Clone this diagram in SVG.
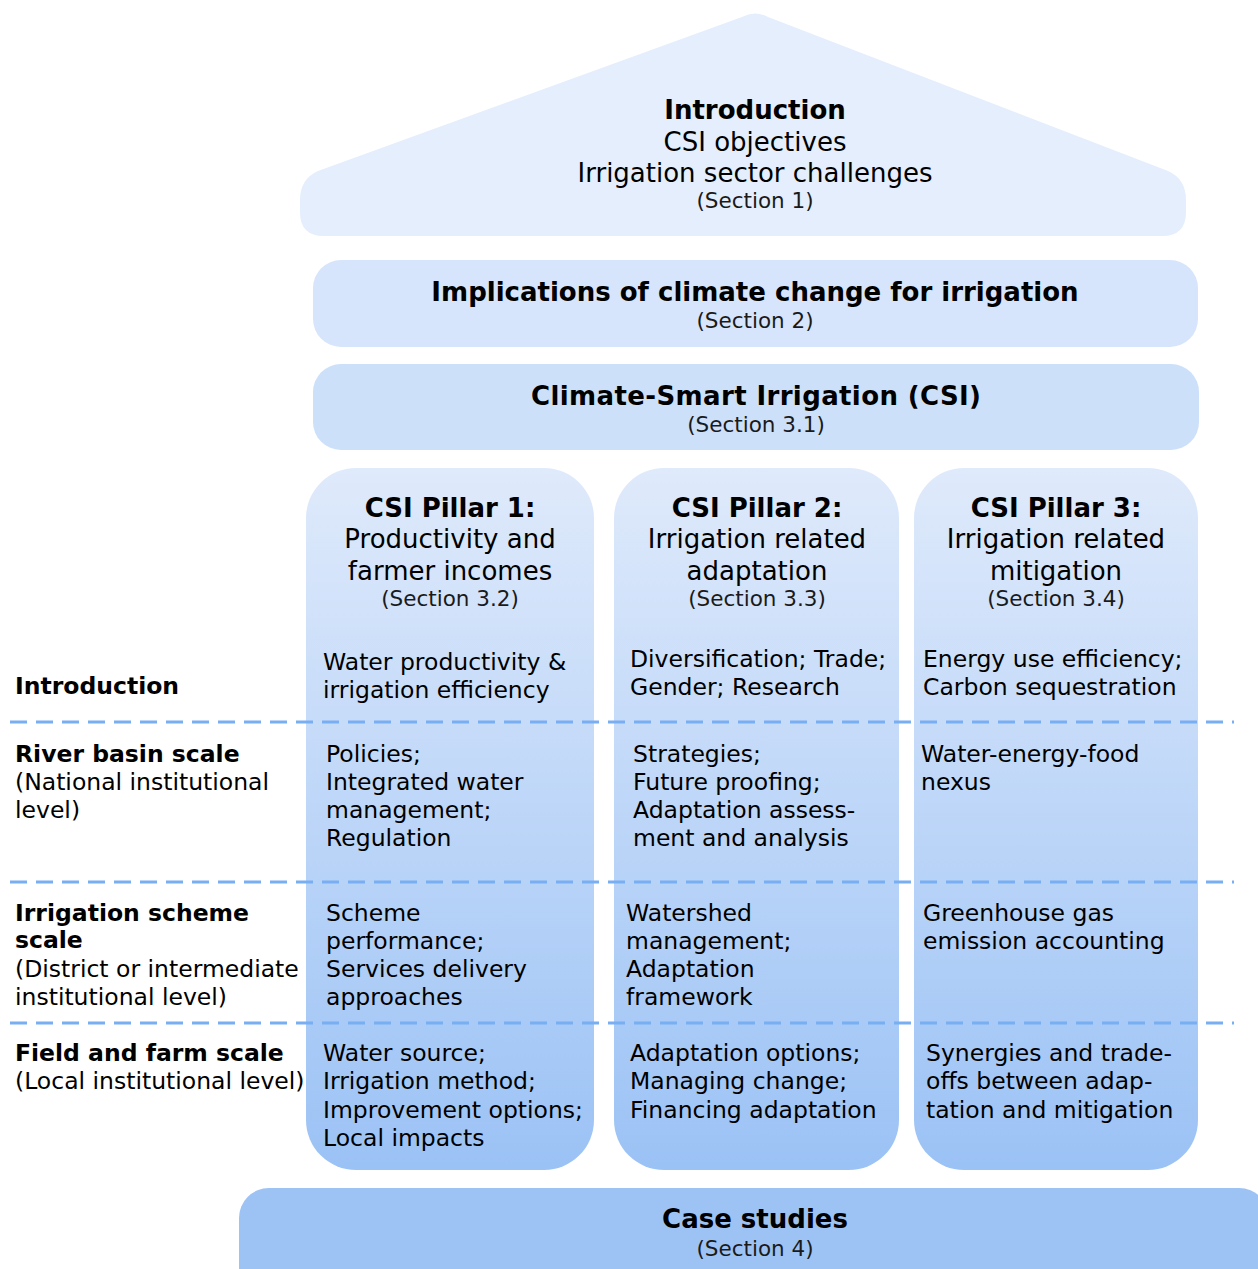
<svg xmlns="http://www.w3.org/2000/svg" width="1258" height="1269" viewBox="0 0 1258 1269">
  <defs>
    <linearGradient id="pillarFill" x1="0" y1="0" x2="0" y2="1">
      <stop offset="0" stop-color="#dfeafb"/>
      <stop offset="1" stop-color="#9bc2f5"/>
    </linearGradient>
  </defs>
  <style>
    text { font-family: "DejaVu Sans", Verdana, sans-serif; fill: #000; }
    .title { font-size: 26px; font-weight: bold; text-anchor: middle; }
    .sub { font-size: 26px; text-anchor: middle; }
    .sec { font-size: 21.5px; text-anchor: middle; fill: #1a1a1a; }
    .body { font-size: 23.5px; }
    .lbl { font-size: 23.5px; font-weight: bold; }
    .sep { stroke: #78aef2; stroke-width: 3; stroke-dasharray: 17 9; fill: none; }
    .pillar { fill: url(#pillarFill); }
  </style>

  <rect width="1258" height="1269" fill="#fff"/>

  <!-- Roof: introduction -->
  <g id="intro-roof">
    <path d="M742 17 Q755 10 768 17 L1168 171 Q1186 179 1186 200 L1186 212 Q1186 236 1162 236 L324 236 Q300 236 300 212 L300 200 Q300 179 318 171 Z" fill="#e4eefc"/>
    <text class="title" x="755" y="119">Introduction</text>
    <text class="sub" x="755" y="151">CSI objectives</text>
    <text class="sub" x="755" y="182">Irrigation sector challenges</text>
    <text class="sec" x="755" y="208">(Section 1)</text>
  </g>

  <!-- Section 2 bar -->
  <g id="climate-implications">
    <rect x="313" y="260" width="885" height="87" rx="28" fill="#d6e5fb"/>
    <text class="title" x="755" y="301">Implications of climate change for irrigation</text>
    <text class="sec" x="755" y="328">(Section 2)</text>
  </g>

  <!-- Section 3.1 bar -->
  <g id="csi">
    <rect x="313" y="364" width="886" height="86" rx="28" fill="#cce0fa"/>
    <text class="title" x="756" y="405" textLength="450" lengthAdjust="spacing">Climate-Smart Irrigation (CSI)</text>
    <text class="sec" x="756" y="432">(Section 3.1)</text>
  </g>

  <!-- Pillar 1 -->
  <g id="pillar-1">
    <rect class="pillar" x="306" y="468" width="288" height="702" rx="50"/>
    <text class="title" x="450" y="517">CSI Pillar 1:</text>
    <text class="sub" x="450" y="548">Productivity and</text>
    <text class="sub" x="450" y="580">farmer incomes</text>
    <text class="sec" x="450" y="606">(Section 3.2)</text>
    <text class="body" x="323" y="670">Water productivity &amp;</text>
    <text class="body" x="323" y="698">irrigation efficiency</text>
    <text class="body" x="326" y="762">Policies;</text>
    <text class="body" x="326" y="790">Integrated water</text>
    <text class="body" x="326" y="818">management;</text>
    <text class="body" x="326" y="846">Regulation</text>
    <text class="body" x="326" y="921">Scheme</text>
    <text class="body" x="326" y="949">performance;</text>
    <text class="body" x="326" y="977">Services delivery</text>
    <text class="body" x="326" y="1005">approaches</text>
    <text class="body" x="323" y="1061">Water source;</text>
    <text class="body" x="323" y="1089">Irrigation method;</text>
    <text class="body" x="323" y="1118">Improvement options;</text>
    <text class="body" x="323" y="1146">Local impacts</text>
  </g>

  <!-- Pillar 2 -->
  <g id="pillar-2">
    <rect class="pillar" x="614" y="468" width="285" height="702" rx="50"/>
    <text class="title" x="757" y="517">CSI Pillar 2:</text>
    <text class="sub" x="757" y="548">Irrigation related</text>
    <text class="sub" x="757" y="580">adaptation</text>
    <text class="sec" x="757" y="606">(Section 3.3)</text>
    <text class="body" x="630" y="667">Diversification; Trade;</text>
    <text class="body" x="630" y="695">Gender; Research</text>
    <text class="body" x="633" y="762">Strategies;</text>
    <text class="body" x="633" y="790">Future proofing;</text>
    <text class="body" x="633" y="818">Adaptation assess-</text>
    <text class="body" x="633" y="846">ment and analysis</text>
    <text class="body" x="626" y="921">Watershed</text>
    <text class="body" x="626" y="949">management;</text>
    <text class="body" x="626" y="977">Adaptation</text>
    <text class="body" x="626" y="1005">framework</text>
    <text class="body" x="630" y="1061">Adaptation options;</text>
    <text class="body" x="630" y="1089">Managing change;</text>
    <text class="body" x="630" y="1118">Financing adaptation</text>
  </g>

  <!-- Pillar 3 -->
  <g id="pillar-3">
    <rect class="pillar" x="914" y="468" width="284" height="702" rx="50"/>
    <text class="title" x="1056" y="517">CSI Pillar 3:</text>
    <text class="sub" x="1056" y="548">Irrigation related</text>
    <text class="sub" x="1056" y="580">mitigation</text>
    <text class="sec" x="1056" y="606">(Section 3.4)</text>
    <text class="body" x="923" y="667">Energy use efficiency;</text>
    <text class="body" x="923" y="695">Carbon sequestration</text>
    <text class="body" x="921" y="762">Water-energy-food</text>
    <text class="body" x="921" y="790">nexus</text>
    <text class="body" x="923" y="921">Greenhouse gas</text>
    <text class="body" x="923" y="949">emission accounting</text>
    <text class="body" x="926" y="1061">Synergies and trade-</text>
    <text class="body" x="926" y="1089">offs between adap-</text>
    <text class="body" x="926" y="1118">tation and mitigation</text>
  </g>

  <!-- Foundation: case studies -->
  <g id="case-studies">
    <rect x="239" y="1188" width="1030" height="110" rx="30" fill="#9dc3f5"/>
    <text class="title" x="755" y="1228">Case studies</text>
    <text class="sec" x="755" y="1256">(Section 4)</text>
  </g>

  <!-- Scale separators -->
  <g id="separators">
    <line class="sep" x1="10" y1="722" x2="1234" y2="722"/>
    <line class="sep" x1="10" y1="882" x2="1234" y2="882"/>
    <line class="sep" x1="10" y1="1023" x2="1234" y2="1023"/>
  </g>

  <!-- Scale labels -->
  <g id="scale-labels">
    <text class="lbl" x="15" y="694">Introduction</text>
    <text class="lbl" x="15" y="762">River basin scale</text>
    <text class="body" x="15" y="790">(National institutional</text>
    <text class="body" x="15" y="818">level)</text>
    <text class="lbl" x="15" y="921">Irrigation scheme</text>
    <text class="lbl" x="15" y="948">scale</text>
    <text class="body" x="15" y="977">(District or intermediate</text>
    <text class="body" x="15" y="1005">institutional level)</text>
    <text class="lbl" x="15" y="1061">Field and farm scale</text>
    <text class="body" x="15" y="1089">(Local institutional level)</text>
  </g>
</svg>
